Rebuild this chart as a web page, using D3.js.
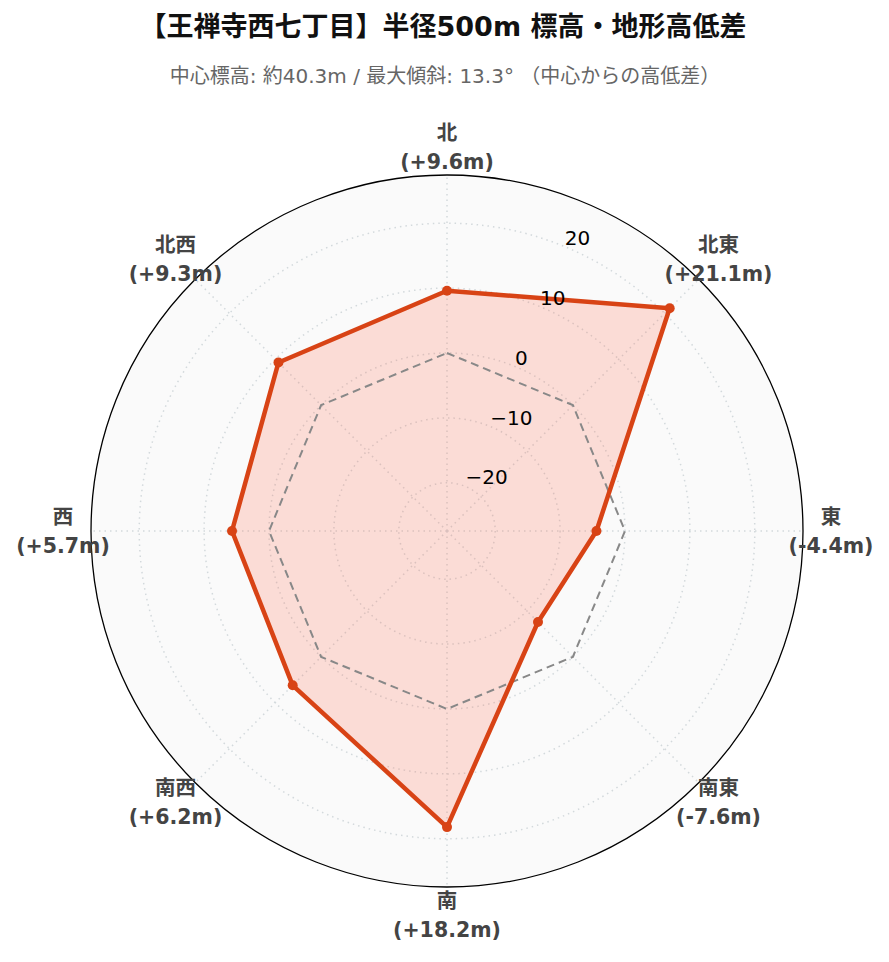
<!DOCTYPE html>
<html><head><meta charset="utf-8">
<script src="https://cdn.jsdelivr.net/npm/d3@7"></script>
<style>
html,body{margin:0;padding:0;background:#fff;}
svg{display:block;}
</style></head>
<body>
<svg id="chart" width="889" height="962"></svg>
<script>
const titleText = "【王禅寺西七丁目】半径500m 標高・地形高低差";
const subtitleText = "中心標高: 約40.3m / 最大傾斜: 13.3° （中心からの高低差）";
const directions = ["北","北東","東","南東","南","南西","西","北西"];
const values = [9.6, 21.1, -4.4, -7.6, 18.2, 6.2, 5.7, 9.3];
const baseline = [0, 0, 0, 0, 0, 0, 0, 0];
const radialTicks = [-20, -10, 0, 10, 20];
const radialRange = [-27.43, 27.43];

const W = 889, H = 962;
const cx = 447, cy = 531, R = 356;
const FONT = "'DejaVu Sans', 'Noto Sans CJK JP', sans-serif";

const svg = d3.select("#chart");
const r = d3.scaleLinear().domain(radialRange).range([0, R]);
const ang = d3.scaleLinear().domain([0, directions.length]).range([0, 2 * Math.PI]);

// title
svg.append("text").attr("x", cx - 4).attr("y", 36).attr("text-anchor", "middle")
  .attr("font-family", FONT).attr("font-weight", "bold").attr("font-size", 27)
  .attr("fill", "#111").text(titleText);
svg.append("text").attr("x", cx - 2).attr("y", 83).attr("text-anchor", "middle")
  .attr("font-family", FONT).attr("font-size", 20)
  .attr("fill", "#666").text(subtitleText);

const g = svg.append("g").attr("transform", `translate(${cx},${cy})`);

// background
g.append("circle").attr("r", R).attr("fill", "#fafafa");

// grid circles
g.selectAll("circle.grid").data(radialTicks).join("circle")
  .attr("class", "grid").attr("r", d => r(d)).attr("fill", "none")
  .attr("stroke", "#d3d9dc").attr("stroke-width", 1.5).attr("stroke-dasharray", "1.5,4");

// spokes
g.selectAll("line.spoke").data(directions).join("line")
  .attr("class", "spoke")
  .attr("x1", 0).attr("y1", 0)
  .attr("x2", (d, i) => R * Math.sin(ang(i)))
  .attr("y2", (d, i) => -R * Math.cos(ang(i)))
  .attr("stroke", "#d3d9dc").attr("stroke-width", 1.5).attr("stroke-dasharray", "1.5,4");

// data area
const radial = d3.lineRadial()
  .angle((d, i) => ang(i))
  .radius(d => r(d))
  .curve(d3.curveLinearClosed);

g.append("path").datum(values).attr("d", radial)
  .attr("fill", "rgba(255,99,71,0.2)").attr("stroke", "none");

// baseline dashed
g.append("path").datum(baseline).attr("d", radial)
  .attr("fill", "none").attr("stroke", "#888").attr("stroke-width", 2)
  .attr("stroke-dasharray", "8,5");

g.append("path").datum(values).attr("d", radial)
  .attr("fill", "none").attr("stroke", "#d84315").attr("stroke-width", 4.5)
  .attr("stroke-linejoin", "round");

g.selectAll("circle.pt").data(values).join("circle")
  .attr("class", "pt")
  .attr("cx", (d, i) => r(d) * Math.sin(ang(i)))
  .attr("cy", (d, i) => -r(d) * Math.cos(ang(i)))
  .attr("r", 5).attr("fill", "#d84315");

// outer boundary
g.append("circle").attr("r", R).attr("fill", "none").attr("stroke", "#000").attr("stroke-width", 1.3);

// radial tick labels
const tickAngle = Math.PI / 8;
const fmt = d3.format("");
g.selectAll("text.tick").data(radialTicks).join("text")
  .attr("class", "tick")
  .attr("x", d => r(d) * Math.sin(tickAngle))
  .attr("y", d => -r(d) * Math.cos(tickAngle) - 9)
  .attr("dominant-baseline", "central")
  .attr("text-anchor", "start")
  .attr("font-family", FONT).attr("font-size", 20).attr("fill", "#000")
  .text(d => fmt(d));

// angular labels
const labelR = R + 28;
const fmtVal = v => `(${v >= 0 ? "+" : ""}${v.toFixed(1)}m)`;
const lab = g.selectAll("g.alab").data(directions).join("g")
  .attr("class", "alab")
  .attr("transform", (d, i) => `translate(${labelR * Math.sin(ang(i))},${-labelR * Math.cos(ang(i))})`);
lab.append("text").attr("y", -14.5).attr("dominant-baseline", "central")
  .attr("text-anchor", "middle").attr("font-family", FONT).attr("font-weight", "bold")
  .attr("font-size", 20.5).attr("fill", "#444").text(d => d);
lab.append("text").attr("y", 14.5).attr("dominant-baseline", "central")
  .attr("text-anchor", "middle").attr("font-family", FONT).attr("font-weight", "bold")
  .attr("font-size", 20.5).attr("fill", "#444").text((d, i) => fmtVal(values[i]));
</script>
</body></html>
